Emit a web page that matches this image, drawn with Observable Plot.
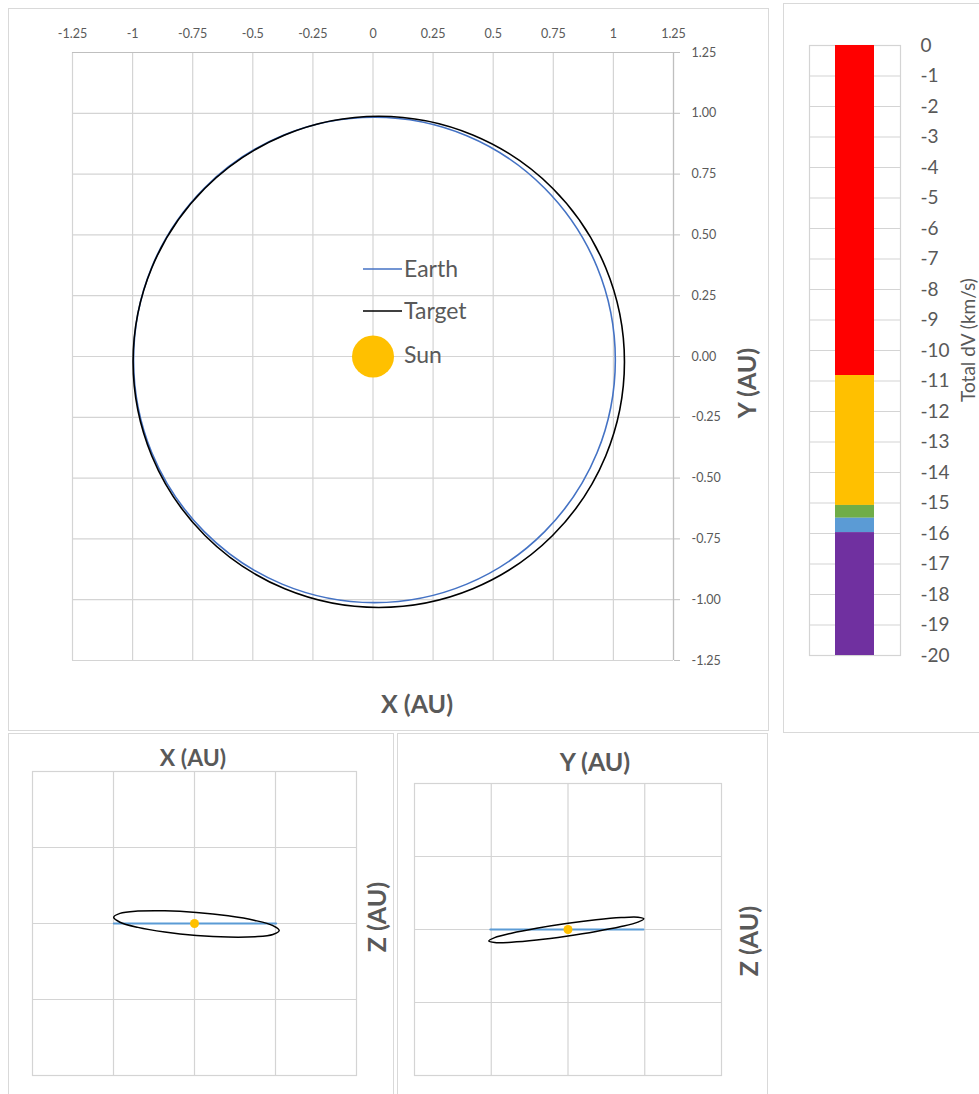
<!DOCTYPE html>
<html>
<head>
<meta charset="utf-8">
<script src="https://cdn.jsdelivr.net/npm/d3@7"></script>
<script src="https://cdn.jsdelivr.net/npm/@observablehq/plot@0.6"></script>
<style>
  html, body { margin: 0; padding: 0; background: #fff; }
  #root { position: relative; width: 979px; height: 1094px; overflow: hidden; background: #fff; font-family: Lato, "Open Sans", sans-serif; color: #595959; }
  .panel { position: absolute; border: 1px solid #d9d9d9; box-sizing: border-box; }
  .abs { position: absolute; }
  .lbl { position: absolute; white-space: nowrap; line-height: 1; color: #595959; font-family: Lato, sans-serif; }
</style>
</head>
<body>
<div id="root"></div>
<script>
// ---------- Data ----------
// Earth orbit, heliocentric (AU)
const earthX = [1.008, 0.932, 0.714, 0.390, 0.006, -0.378, -0.702, -0.920, -0.996, -0.920, -0.702, -0.378, 0.006, 0.390, 0.714, 0.932];
const earthY = [-0.014, 0.368, 0.692, 0.908, 0.984, 0.908, 0.692, 0.368, -0.014, -0.396, -0.720, -0.936, -1.012, -0.936, -0.720, -0.396];
const earthZ = [0, 0, 0, 0, 0, 0, 0, 0, 0, 0, 0, 0, 0, 0, 0, 0];
// Target orbit (AU)
const targetX = [1.046, 0.968, 0.747, 0.415, 0.024, -0.367, -0.699, -0.920, -0.998, -0.920, -0.699, -0.367, 0.024, 0.415, 0.747, 0.968];
const targetY = [-0.022, 0.365, 0.692, 0.911, 0.988, 0.911, 0.692, 0.365, -0.022, -0.409, -0.736, -0.955, -1.032, -0.955, -0.736, -0.409];
const targetZ = [-0.092, -0.028, 0.040, 0.101, 0.146, 0.168, 0.163, 0.133, 0.082, 0.017, -0.051, -0.112, -0.157, -0.179, -0.174, -0.144];
// Sun
const sunX = [0], sunY = [0], sunZ = [0];
// Total dV stack (km/s), top to bottom
const dvNames = ["Part 1", "Part 2", "Part 3", "Part 4", "Part 5"];
const dvValues = [10.82, 4.26, 0.42, 0.47, 4.03];
const dvColors = ["#FF0000", "#FFC000", "#70AD47", "#5B9BD5", "#7030A0"];
// Tick values
const mainTicks = [-1.25, -1, -0.75, -0.5, -0.25, 0, 0.25, 0.5, 0.75, 1, 1.25];
const dvTicks = [0, -1, -2, -3, -4, -5, -6, -7, -8, -9, -10, -11, -12, -13, -14, -15, -16, -17, -18, -19, -20];
const sideTicks = [-1, 0, 1];

// ---------- Tables ----------
const earth = earthX.map((x, i) => ({x, y: earthY[i], z: earthZ[i]}));
const target = targetX.map((x, i) => ({x, y: targetY[i], z: targetZ[i]}));
const sun = sunX.map((x, i) => ({x, y: sunY[i], z: sunZ[i]}));
const dv = dvNames.map((name, i) => ({name, value: -dvValues[i], cat: "dV"}));

const root = document.getElementById("root");
const GRID = {stroke: "#d4d4d4", strokeOpacity: 1, strokeWidth: 1.2};
const baseStyle = {fontFamily: "Lato, sans-serif", color: "#595959", background: "transparent", overflow: "visible"};

function place(el, left, top) {
  const wrap = document.createElement("div");
  wrap.className = "abs";
  wrap.style.left = left + "px";
  wrap.style.top = top + "px";
  wrap.appendChild(el);
  root.appendChild(wrap);
  return wrap;
}
function panel(l, t, w, h) {
  const d = document.createElement("div");
  d.className = "panel";
  Object.assign(d.style, {left: l + "px", top: t + "px", width: w + "px", height: h + "px"});
  root.appendChild(d);
}
function label(text, cx, cy, size, bold, rotate) {
  const d = document.createElement("div");
  d.className = "lbl";
  d.textContent = text;
  d.style.left = cx + "px";
  d.style.top = cy + "px";
  d.style.fontSize = size + "px";
  d.style.fontWeight = bold ? "700" : "400";
  d.style.transform = "translate(-50%,-50%)" + (rotate ? " rotate(-90deg)" : "");
  root.appendChild(d);
}

// ---------- Panel borders ----------
panel(8, 8, 761, 723);
panel(783, 3, 210, 730);
panel(8, 733, 386, 380);
panel(397, 733, 371, 380);

// ---------- Main XY plot ----------
const main = Plot.plot({
  width: 760, height: 722,
  marginLeft: 64, marginRight: 95, marginTop: 44, marginBottom: 70,
  x: {domain: [-1.25, 1.25]},
  y: {domain: [-1.25, 1.25]},
  style: {...baseStyle, fontSize: "12.5px"},
  marks: [
    Plot.gridX(mainTicks, GRID),
    Plot.gridY(mainTicks, GRID),
    Plot.axisX(mainTicks, {anchor: "top", tickSize: 0, tickPadding: 15, tickFormat: d => String(d), label: null}),
    Plot.axisY(mainTicks, {anchor: "right", tickSize: 6, tickPadding: 12, tickFormat: d => d.toFixed(2), label: null, stroke: "#bfbfbf", fill: "#595959"}),
    Plot.ruleY([1.25], {stroke: "#bfbfbf", strokeWidth: 1.2}),
    Plot.ruleX([1.25], {stroke: "#bfbfbf", strokeWidth: 1.2}),
    Plot.line(earth, {x: "x", y: "y", curve: "catmull-rom-closed", stroke: "#4472C4", strokeWidth: 1.6}),
    Plot.line(target, {x: "x", y: "y", curve: "catmull-rom-closed", stroke: "#000000", strokeWidth: 1.6}),
    Plot.dot(sun, {x: "x", y: "y", r: 21, fill: "#FFC000", stroke: "none"})
  ]
});
place(main, 8, 8);
label("X (AU)", 417, 703, 25, true, false);
label("Y (AU)", 746, 383, 25, true, true);

// Legend overlay
const leg = d3.create("svg").attr("width", 979).attr("height", 1094).style("position", "absolute").style("left", "0px").style("top", "0px").style("pointer-events", "none");
leg.append("line").attr("x1", 363).attr("x2", 402).attr("y1", 269).attr("y2", 269).attr("stroke", "#4472C4").attr("stroke-width", 1.6);
leg.append("line").attr("x1", 363).attr("x2", 402).attr("y1", 311).attr("y2", 311).attr("stroke", "#000").attr("stroke-width", 1.6);
const legText = [["Earth", 277], ["Target", 319], ["Sun", 363]];
legText.forEach(([t, y]) => leg.append("text").attr("x", 404).attr("y", y).attr("fill", "#595959").attr("font-family", "Lato, sans-serif").attr("font-size", 23).text(t));
root.appendChild(leg.node());

// ---------- Total dV column ----------
const cb = Plot.plot({
  width: 196, height: 729,
  marginLeft: 26, marginRight: 79, marginTop: 42, marginBottom: 77,
  x: {domain: ["dV"], padding: 0.4, axis: null},
  y: {domain: [-20, 0]},
  color: {domain: dvNames, range: dvColors},
  style: {...baseStyle, fontSize: "19px"},
  marks: [
    Plot.gridY(dvTicks, GRID),
    Plot.frame({stroke: "#d4d4d4", strokeWidth: 1.2}),
    Plot.barY(dv, {x: "cat", y: "value", fill: "name"}),
    Plot.axisY(dvTicks, {anchor: "right", tickSize: 0, tickPadding: 20, tickFormat: d => String(d), label: null})
  ]
});
place(cb, 783, 3);
label("Total dV (km/s)", 967, 340, 19, false, true);

// ---------- Side views ----------
function side(w, h, ml, mr, mt, mb, key) {
  return Plot.plot({
    width: w, height: h, marginLeft: ml, marginRight: mr, marginTop: mt, marginBottom: mb,
    x: {domain: [-2, 2], axis: null},
    y: {domain: [-2, 2], axis: null},
    style: baseStyle,
    marks: [
      Plot.gridX(sideTicks, GRID),
      Plot.gridY(sideTicks, GRID),
      Plot.frame({stroke: "#d4d4d4", strokeWidth: 1.2}),
      Plot.line(earth, {x: key, y: "z", curve: "linear-closed", stroke: "#5B9BD5", strokeWidth: 2}),
      Plot.line(target, {x: key, y: "z", curve: "catmull-rom-closed", stroke: "#000000", strokeWidth: 1.5}),
      Plot.dot(sun, {x: key, y: "z", r: 4.5, fill: "#FFC000", stroke: "none"})
    ]
  });
}
place(side(385, 361, 24, 37, 38, 19, "x"), 8, 733);
label("X (AU)", 193, 757, 23, true, false);
label("Z (AU)", 376, 917, 25, true, true);

place(side(370, 361, 17, 46, 50, 19, "y"), 397, 733);
label("Y (AU)", 595, 761, 25, true, false);
label("Z (AU)", 748, 941, 25, true, true);
</script>
</body>
</html>
